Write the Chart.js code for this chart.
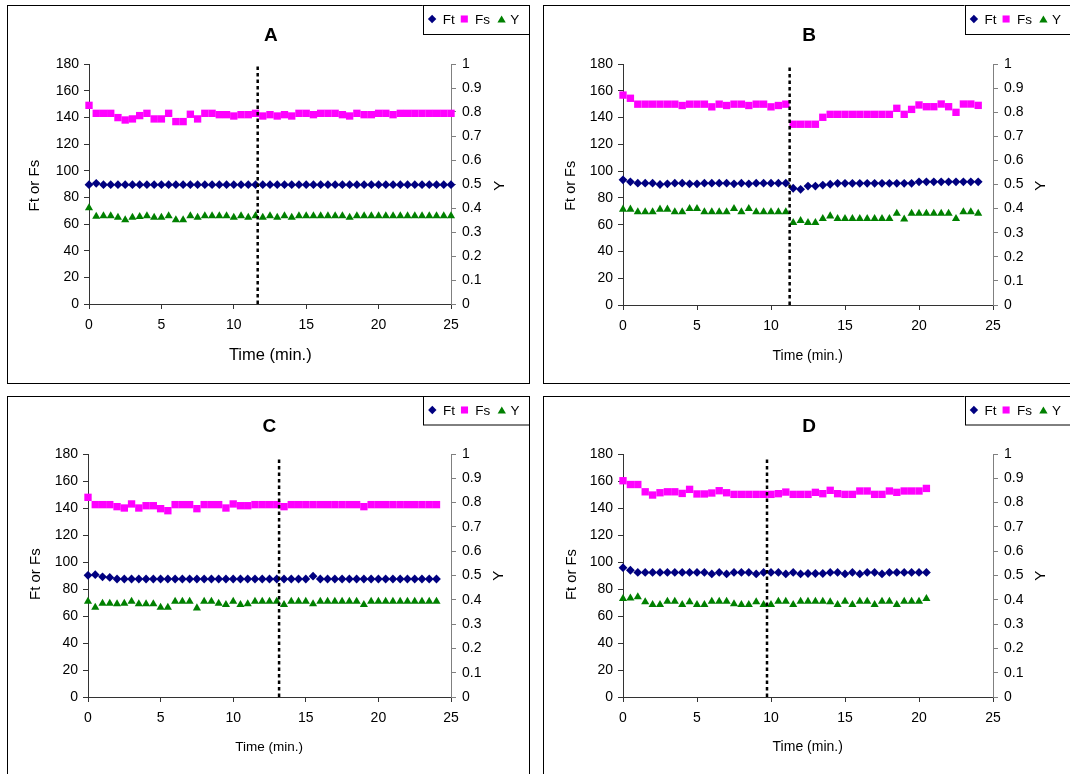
<!DOCTYPE html>
<html><head><meta charset="utf-8">
<script src="https://cdn.jsdelivr.net/npm/chart.js@4/dist/chart.umd.min.js"></script>
<style>
html,body{margin:0;padding:0;background:#fff;}
body{width:1070px;height:774px;overflow:hidden;position:relative;}
canvas{position:absolute;display:block;}
</style></head><body>
<script>
// ---------- DATA ----------
const panelTitles = ['A', 'B', 'C', 'D'];
const seriesNames = ['Ft', 'Fs', 'Y'];
const xAxisTitle = 'Time (min.)';
const yAxisTitle = 'Ft or Fs';
const y2AxisTitle = 'Y';
const xTicks = [0, 5, 10, 15, 20, 25];
const yTicks = [0, 20, 40, 60, 80, 100, 120, 140, 160, 180];
const y2Ticks = [0, 0.1, 0.2, 0.3, 0.4, 0.5, 0.6, 0.7, 0.8, 0.9, 1];

const timeA = [0, 0.5, 1, 1.5, 2, 2.5, 3, 3.5, 4, 4.5, 5, 5.5, 6, 6.5, 7, 7.5, 8, 8.5, 9, 9.5,
  10, 10.5, 11, 11.5, 12, 12.5, 13, 13.5, 14, 14.5, 15, 15.5, 16, 16.5, 17, 17.5, 18, 18.5, 19, 19.5,
  20, 20.5, 21, 21.5, 22, 22.5, 23, 23.5, 24, 24.5, 25];
const timeB = [0, 0.5, 1, 1.5, 2, 2.5, 3, 3.5, 4, 4.5, 5, 5.5, 6, 6.5, 7, 7.5, 8, 8.5, 9, 9.5,
  10, 10.5, 11, 11.5, 12, 12.5, 13, 13.5, 14, 14.5, 15, 15.5, 16, 16.5, 17, 17.5, 18, 18.5, 19, 19.5,
  20, 20.5, 21, 21.5, 22, 22.5, 23, 23.5, 24];
const timeC = [0, 0.5, 1, 1.5, 2, 2.5, 3, 3.5, 4, 4.5, 5, 5.5, 6, 6.5, 7, 7.5, 8, 8.5, 9, 9.5,
  10, 10.5, 11, 11.5, 12, 12.5, 13, 13.5, 14, 14.5, 15, 15.5, 16, 16.5, 17, 17.5, 18, 18.5, 19, 19.5,
  20, 20.5, 21, 21.5, 22, 22.5, 23, 23.5, 24];
const timeD = [0, 0.5, 1, 1.5, 2, 2.5, 3, 3.5, 4, 4.5, 5, 5.5, 6, 6.5, 7, 7.5, 8, 8.5, 9, 9.5,
  10, 10.5, 11, 11.5, 12, 12.5, 13, 13.5, 14, 14.5, 15, 15.5, 16, 16.5, 17, 17.5, 18, 18.5, 19, 19.5,
  20, 20.5];

const ftA = [89.5, 90.5, 89.5, 89.5, 89.5, 89.5, 89.5, 89.5, 89.5, 89.5,
  89.5, 89.5, 89.5, 89.5, 89.5, 89.5, 89.5, 89.5, 89.5, 89.5,
  89.5, 89.5, 89.5, 89.5, 89.5, 89.5, 89.5, 89.5, 89.5, 89.5,
  89.5, 89.5, 89.5, 89.5, 89.5, 89.5, 89.5, 89.5, 89.5, 89.5,
  89.5, 89.5, 89.5, 89.5, 89.5, 89.5, 89.5, 89.5, 89.5, 89.5, 89.5];
const fsA = [149, 143, 143, 143, 139.8, 138, 138.8, 141.3, 143, 138.8,
  138.8, 143, 136.8, 136.8, 142.3, 138.8, 143, 143, 142, 142,
  141, 142, 142, 143, 141, 142, 141, 142, 141, 143,
  143, 142, 143, 143, 143, 142, 141, 143, 142, 142,
  143, 143, 142, 143, 143, 143, 143, 143, 143, 143, 143];
const yA = [0.40, 0.365, 0.367, 0.367, 0.361, 0.35, 0.361, 0.364, 0.367, 0.361,
  0.361, 0.367, 0.35, 0.35, 0.367, 0.361, 0.367, 0.367, 0.367, 0.367,
  0.361, 0.367, 0.361, 0.367, 0.361, 0.367, 0.361, 0.367, 0.361, 0.367,
  0.367, 0.367, 0.367, 0.367, 0.367, 0.367, 0.361, 0.367, 0.367, 0.367,
  0.367, 0.367, 0.367, 0.367, 0.367, 0.367, 0.367, 0.367, 0.367, 0.367, 0.367];

const ftB = [93.5, 92, 91, 91, 91, 90, 90.5, 91, 91, 90.5,
  90.5, 91, 91, 91, 91, 90.5, 91, 90.5, 91, 91,
  91, 91, 91, 87.2, 86.4, 88.8, 88.8, 89.6, 90.2, 90.9,
  90.9, 90.9, 90.9, 90.9, 90.9, 90.9, 90.9, 90.9, 90.9, 90.9,
  92, 92, 92, 92, 92, 92, 92, 92, 92];
const fsB = [156.8, 154.4, 150, 150, 150, 150, 150, 150, 149, 150,
  150, 150, 148, 150, 149, 150, 150, 149, 150, 150,
  148, 149, 150, 135, 135, 135, 135, 140.2, 142.4, 142.4,
  142.4, 142.4, 142.4, 142.4, 142.4, 142.4, 142.4, 146.9, 142.4, 146.1,
  149.4, 148.1, 148.1, 150.1, 148.1, 143.9, 150.1, 150.1, 149.1];
const yB = [0.397, 0.397, 0.386, 0.386, 0.386, 0.397, 0.397, 0.386, 0.386, 0.40,
  0.40, 0.386, 0.386, 0.386, 0.386, 0.40, 0.386, 0.40, 0.386, 0.386,
  0.386, 0.386, 0.386, 0.342, 0.35, 0.342, 0.342, 0.358, 0.369, 0.358,
  0.358, 0.358, 0.358, 0.358, 0.358, 0.358, 0.358, 0.38, 0.356, 0.38,
  0.38, 0.38, 0.38, 0.38, 0.38, 0.358, 0.386, 0.386, 0.38];

const ftC = [90.1, 90.6, 89, 88.6, 87.4, 87.4, 87.4, 87.4, 87.4, 87.4,
  87.4, 87.4, 87.4, 87.4, 87.4, 87.4, 87.4, 87.4, 87.4, 87.4,
  87.4, 87.4, 87.4, 87.4, 87.4, 87.4, 87.4, 87.4, 87.4, 87.4,
  87.4, 89.5, 87.4, 87.4, 87.4, 87.4, 87.4, 87.4, 87.4, 87.4,
  87.4, 87.4, 87.4, 87.4, 87.4, 87.4, 87.4, 87.4, 87.4];
const fsC = [147.9, 142.5, 142.5, 142.5, 141, 140, 143, 140, 141.7, 141.7,
  139.5, 138, 142.5, 142.5, 142.5, 139.5, 142.5, 142.5, 142.5, 140,
  143, 141.7, 141.7, 142.5, 142.5, 142.5, 142.5, 141, 142.5, 142.5,
  142.5, 142.5, 142.5, 142.5, 142.5, 142.5, 142.5, 142.5, 141, 142.5,
  142.5, 142.5, 142.5, 142.5, 142.5, 142.5, 142.5, 142.5, 142.5];
const yC = [0.393, 0.369, 0.385, 0.385, 0.383, 0.385, 0.393, 0.383, 0.383, 0.383,
  0.369, 0.369, 0.393, 0.393, 0.393, 0.366, 0.393, 0.393, 0.385, 0.38,
  0.393, 0.38, 0.383, 0.393, 0.393, 0.393, 0.393, 0.38, 0.393, 0.393,
  0.393, 0.383, 0.393, 0.393, 0.393, 0.393, 0.393, 0.393, 0.38, 0.393,
  0.393, 0.393, 0.393, 0.393, 0.393, 0.393, 0.393, 0.393, 0.393];

const ftD = [95.8, 93.9, 92.3, 92.3, 92.3, 92.3, 92.3, 92.3, 92.3, 92.3,
  92.3, 92.3, 91.2, 92.3, 91.2, 92.3, 92.3, 92.3, 91.2, 92.3,
  92.3, 92.3, 91.2, 92.3, 91.2, 91.5, 91.5, 91.5, 92.3, 92.3,
  91.2, 92.3, 91.2, 92.3, 92.3, 91.2, 92.3, 92.3, 92.3, 92.3,
  92.3, 92.3];
const fsD = [160.2, 157.4, 157.4, 152, 149.6, 151.3, 152, 152, 150.8, 153.8,
  150.4, 150.4, 151.1, 152.8, 151.3, 150.1, 150.1, 150.1, 150.1, 150.1,
  150.1, 150.6, 151.8, 150.1, 150.1, 150.1, 151.6, 150.6, 153.1, 150.6,
  150.1, 150.1, 152.6, 152.6, 150.1, 150.1, 152.6, 151.6, 152.6, 152.6,
  152.6, 154.5];
const yD = [0.405, 0.407, 0.412, 0.391, 0.38, 0.38, 0.393, 0.393, 0.38, 0.391,
  0.38, 0.38, 0.393, 0.393, 0.393, 0.383, 0.38, 0.38, 0.391, 0.38,
  0.38, 0.393, 0.393, 0.38, 0.393, 0.393, 0.393, 0.393, 0.391, 0.38,
  0.393, 0.38, 0.393, 0.393, 0.38, 0.393, 0.393, 0.38, 0.393, 0.393,
  0.393, 0.405];

// time of the dotted vertical marker in each panel, and its top (left-axis units)
const markerTime = [11.65, 11.26, 13.16, 9.73];
const markerTop = [179, 178.5, 177.5, 177.5];

// ---------- LAYOUT / STYLE ----------
const FONT = 'Arial, "Liberation Sans", Helvetica, sans-serif';
const COLORS = { Ft: '#000080', Fs: '#FF00FF', Y: '#008000' };
const STYLES = { Ft: 'rectRot', Fs: 'rect', Y: 'triangle' };
const RADII = { Ft: 4.4, Fs: 5.2, Y: 4.7 };

const layouts = [
  { box: {x: 7, y: 5, w: 523, h: 379}, plot: {l: 89, t: 64, r: 451, b: 304},
    title: {x: 270.8, y: 34.3}, legendX: 422.8, legendH: 29,
    xt: {x: 270.3, y: 354, s: 16.5}, yt: {x: 34, y: 185.7, s: 15}, y2t: {x: 499, y: 185.7, s: 15} },
  { box: {x: 543, y: 5, w: 537, h: 379}, plot: {l: 623, t: 64, r: 993, b: 305},
    title: {x: 809, y: 34.3}, legendX: 964.6, legendH: 29,
    xt: {x: 807.7, y: 355, s: 14}, yt: {x: 570.3, y: 185.8, s: 14.5}, y2t: {x: 1039.6, y: 185.7, s: 15} },
  { box: {x: 7, y: 396, w: 523, h: 400}, plot: {l: 88, t: 454, r: 451, b: 697},
    title: {x: 269.3, y: 425}, legendX: 423, legendH: 28.5,
    xt: {x: 269.1, y: 746, s: 13.5}, yt: {x: 34.4, y: 574.2, s: 15}, y2t: {x: 497.6, y: 575.7, s: 15} },
  { box: {x: 543, y: 396, w: 537, h: 400}, plot: {l: 623, t: 454, r: 993, b: 697},
    title: {x: 809, y: 425}, legendX: 964.6, legendH: 28.5,
    xt: {x: 807.7, y: 746, s: 14}, yt: {x: 570.3, y: 574.5, s: 14.8}, y2t: {x: 1039.6, y: 575.7, s: 15} }
];

const panelData = [
  {time: timeA, ft: ftA, fs: fsA, y: yA},
  {time: timeB, ft: ftB, fs: fsB, y: yB},
  {time: timeC, ft: ftC, fs: fsC, y: yC},
  {time: timeD, ft: ftD, fs: fsD, y: yD}
];

Chart.defaults.font.family = FONT;
Chart.defaults.font.size = 14;
Chart.defaults.color = '#000';

function drawMarker(ctx, style, x, y, r, color) {
  ctx.save();
  ctx.fillStyle = color;
  ctx.beginPath();
  if (style === 'rectRot') {
    ctx.moveTo(x - r, y); ctx.lineTo(x, y - r); ctx.lineTo(x + r, y); ctx.lineTo(x, y + r);
  } else if (style === 'rect') {
    const s = r * Math.SQRT1_2;
    ctx.rect(x - s, y - s, 2 * s, 2 * s);
  } else {
    ctx.moveTo(x, y - r); ctx.lineTo(x + r * 0.866, y + r * 0.5); ctx.lineTo(x - r * 0.866, y + r * 0.5);
  }
  ctx.closePath();
  ctx.fill();
  ctx.restore();
}

function rotatedText(ctx, text, cx, cy, size) {
  ctx.save();
  ctx.font = size + 'px ' + FONT;
  ctx.fillStyle = '#000';
  ctx.textAlign = 'center';
  ctx.textBaseline = 'alphabetic';
  ctx.translate(cx, cy);
  ctx.rotate(-Math.PI / 2);
  ctx.fillText(text, 0, size * 0.716 / 2);
  ctx.restore();
}

function makePanel(i) {
  const lay = layouts[i], d = panelData[i];
  const bx = lay.box.x, by = lay.box.y;
  const canvas = document.createElement('canvas');
  canvas.width = lay.box.w; canvas.height = lay.box.h;
  canvas.style.left = bx + 'px'; canvas.style.top = by + 'px';
  canvas.style.width = lay.box.w + 'px'; canvas.style.height = lay.box.h + 'px';
  document.body.appendChild(canvas);

  const L = lay.plot.l - bx, T = lay.plot.t - by;
  const R = bx + lay.box.w - lay.plot.r, B = by + lay.box.h - lay.plot.b;

  const decor = {
    id: 'decor' + i,
    afterDraw(chart) {
      const ctx = chart.ctx;
      ctx.save();
      // panel border
      ctx.strokeStyle = '#000'; ctx.lineWidth = 1;
      ctx.strokeRect(0.5, 0.5, lay.box.w - 1, lay.box.h - 1);
      // title
      ctx.font = 'bold 19px ' + FONT;
      ctx.fillStyle = '#000'; ctx.textAlign = 'center'; ctx.textBaseline = 'alphabetic';
      ctx.fillText(panelTitles[i], lay.title.x - bx, lay.title.y - by + 19 * 0.716 / 2);
      // axis titles
      ctx.font = lay.xt.s + 'px ' + FONT;
      ctx.fillText(xAxisTitle, lay.xt.x - bx, lay.xt.y - by + lay.xt.s * 0.716 / 2);
      rotatedText(ctx, yAxisTitle, lay.yt.x - bx, lay.yt.y - by, lay.yt.s);
      rotatedText(ctx, y2AxisTitle, lay.y2t.x - bx, lay.y2t.y - by, lay.y2t.s);
      // legend box
      const lx = lay.legendX - bx;
      ctx.fillStyle = '#fff';
      ctx.fillRect(lx, 0, lay.box.w - lx, lay.legendH);
      ctx.strokeStyle = '#000';
      ctx.strokeRect(Math.round(lx) + 0.5, 0.5, lay.box.w - Math.round(lx) - 1, lay.legendH);
      const ly = 14;
      const offs = [[9.3, 20], [41.5, 52.3], [78.8, 87.5]];
      ctx.font = '13.5px ' + FONT;
      ctx.textAlign = 'left'; ctx.textBaseline = 'alphabetic';
      seriesNames.forEach((name, k) => {
        const mx = lx + offs[k][0];
        const rr = name === 'Ft' ? 4.2 : (name === 'Fs' ? 5 : 4.8);
        drawMarker(ctx, STYLES[name], mx, name === 'Y' ? ly + rr * 0.25 : ly, rr, COLORS[name]);
        ctx.fillStyle = '#000';
        ctx.fillText(name, lx + offs[k][1], ly + 13.5 * 0.716 / 2);
      });
      ctx.restore();
    }
  };

  const pts = (arr) => d.time.map((t, j) => ({x: t, y: arr[j]}));
  const mk = (name, arr, axis) => ({
    label: name, data: pts(arr), yAxisID: axis,
    pointStyle: STYLES[name], pointRadius: RADII[name], pointHoverRadius: RADII[name],
    backgroundColor: COLORS[name], borderColor: COLORS[name], borderWidth: 0,
    showLine: false, clip: false
  });

  const tickCb = (list) => (v) => list.includes(+v.toFixed(2)) ? String(+v.toFixed(2)) : '';

  new Chart(canvas, {
    type: 'scatter',
    data: {
      datasets: [
        mk('Ft', d.ft, 'y'),
        mk('Fs', d.fs, 'y'),
        mk('Y', d.y, 'y2'),
        { label: 'marker', data: [{x: markerTime[i], y: 0}, {x: markerTime[i], y: markerTop[i]}],
          yAxisID: 'y', showLine: true, borderColor: '#000', borderWidth: 2.5, borderDash: [3.5, 3],
          pointRadius: 0, clip: false, order: -1 }
      ]
    },
    options: {
      responsive: false, animation: false, devicePixelRatio: 1,
      events: [],
      layout: { padding: { left: 0, right: 0, top: T, bottom: 0 } },
      plugins: { legend: { display: false }, title: { display: false }, tooltip: { enabled: false } },
      scales: {
        x: {
          type: 'linear', position: 'bottom', min: xTicks[0], max: xTicks[xTicks.length - 1],
          ticks: { stepSize: 5, maxRotation: 0, minRotation: 0, autoSkip: false, padding: 8,
                   color: '#000', font: { size: 14 }, callback: tickCb(xTicks) },
          grid: { drawOnChartArea: false, drawTicks: true, tickLength: 5, color: '#333', lineWidth: 1 },
          border: { display: true, color: '#333', width: 1 },
          afterFit(s) { s.height = B; }
        },
        y: {
          type: 'linear', position: 'left', min: yTicks[0], max: yTicks[yTicks.length - 1],
          ticks: { stepSize: 20, padding: 5, color: '#000', font: { size: 14 }, callback: tickCb(yTicks) },
          grid: { drawOnChartArea: false, drawTicks: true, tickLength: 5, color: '#333', lineWidth: 1 },
          border: { display: true, color: '#333', width: 1 },
          afterFit(s) { s.width = L; }
        },
        y2: {
          type: 'linear', position: 'right', min: y2Ticks[0], max: y2Ticks[y2Ticks.length - 1],
          ticks: { stepSize: 0.1, padding: 6, color: '#000', font: { size: 14 }, callback: tickCb(y2Ticks) },
          grid: { drawOnChartArea: false, drawTicks: true, tickLength: 5, color: '#808080', lineWidth: 1 },
          border: { display: true, color: '#808080', width: 1 },
          afterFit(s) { s.width = R; }
        }
      }
    },
    plugins: [decor]
  });
}

for (let i = 0; i < 4; i++) makePanel(i);
</script>
</body></html>
